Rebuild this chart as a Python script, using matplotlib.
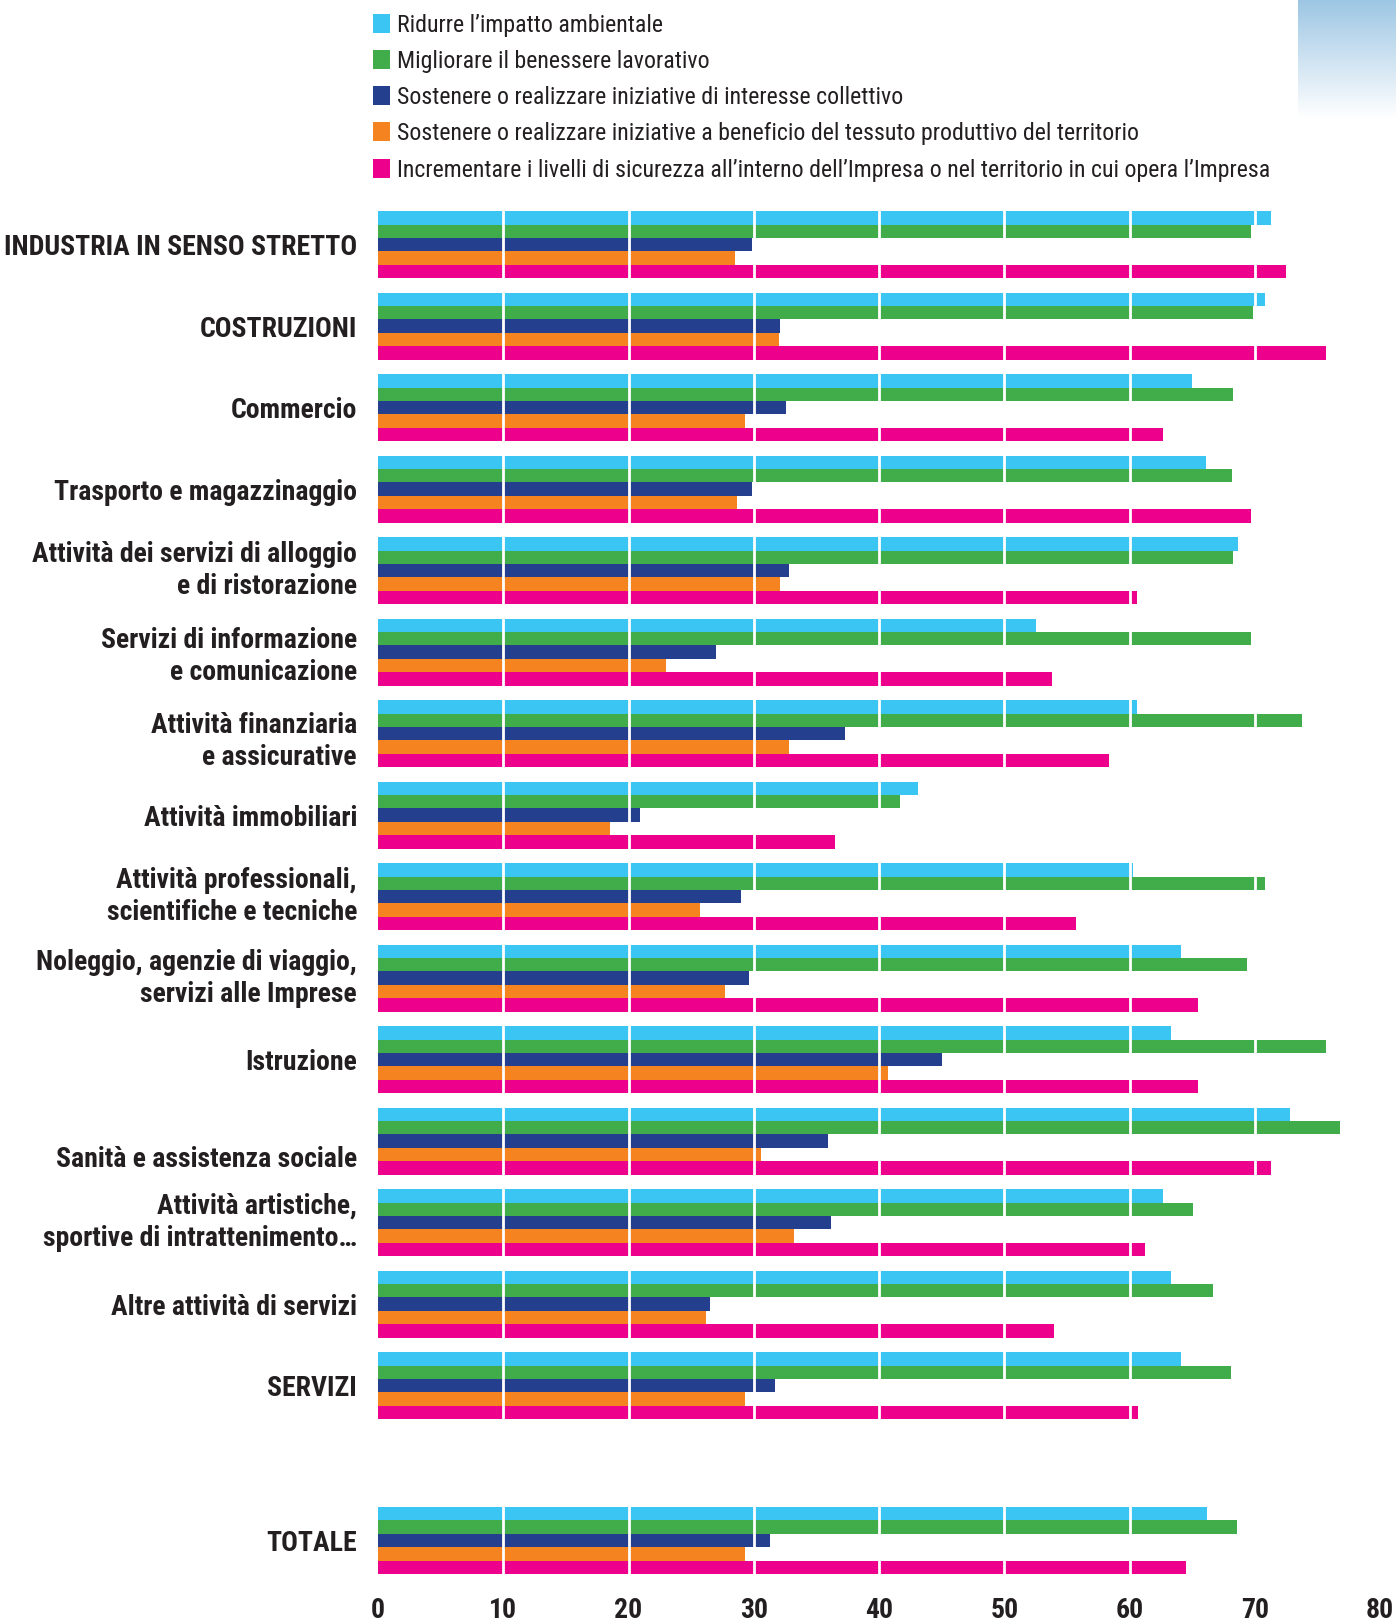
import numpy as np
import matplotlib
matplotlib.use("Agg")
import matplotlib.pyplot as plt
from matplotlib.patches import Rectangle

# --- data -------------------------------------------------------------
categories = [
    "INDUSTRIA IN SENSO STRETTO",
    "COSTRUZIONI",
    "Commercio",
    "Trasporto e magazzinaggio",
    "Attività dei servizi di alloggio\ne di ristorazione",
    "Servizi di informazione\ne comunicazione",
    "Attività finanziaria\ne assicurative",
    "Attività immobiliari",
    "Attività professionali,\nscientifiche e tecniche",
    "Noleggio, agenzie di viaggio,\nservizi alle Imprese",
    "Istruzione",
    "Sanità e assistenza sociale",
    "Attività artistiche,\nsportive di intrattenimento…",
    "Altre attività di servizi",
    "SERVIZI",
    "TOTALE",
]

series_names = [
    "Ridurre l’impatto ambientale",
    "Migliorare il benessere lavorativo",
    "Sostenere o realizzare iniziative di interesse collettivo",
    "Sostenere o realizzare iniziative a beneficio del tessuto produttivo del territorio",
    "Incrementare i livelli di sicurezza all’interno dell’Impresa o nel territorio in cui opera l’Impresa",
]

ambiente = [71.3, 70.8, 65.0, 66.1, 68.7, 52.5, 60.6, 43.1, 60.3, 64.1, 63.3, 72.8, 62.7, 63.3, 64.1, 66.2]
benessere = [69.7, 69.9, 68.3, 68.2, 68.3, 69.7, 73.8, 41.7, 70.8, 69.4, 75.7, 76.8, 65.1, 66.7, 68.1, 68.6]
collettivo = [29.85, 32.1, 32.6, 29.85, 32.85, 27.0, 37.3, 20.9, 29.0, 29.6, 45.0, 35.9, 36.2, 26.5, 31.7, 31.3]
produttivo = [28.5, 32.0, 29.3, 28.7, 32.1, 23.0, 32.85, 18.5, 25.7, 27.7, 40.7, 30.6, 33.2, 26.2, 29.3, 29.3]
sicurezza = [72.5, 75.7, 62.7, 69.7, 60.6, 53.8, 58.4, 36.5, 55.7, 65.5, 65.5, 71.3, 61.2, 54.0, 60.7, 64.5]

xticks = [0, 10, 20, 30, 40, 50, 60, 70, 80]

# --- style ------------------------------------------------------------
colors = ["#3AC5F2", "#41AD4A", "#243F8E", "#F58420", "#EC008C"]
text_color = "#231F20"
narrow = ["Roboto Condensed", "DejaVu Sans"]

W, H = 1396, 1623
fig = plt.figure(figsize=(W / 100, H / 100), dpi=100)

ax_left, ax_right = 378, 1380
ax_top, ax_bottom = 195, 1590
ax = fig.add_axes([ax_left / W, 1 - ax_bottom / H, (ax_right - ax_left) / W, (ax_bottom - ax_top) / H])

# group centres: the overall total sits below a gap
group_step_px = 81.5
first_centre_px = 244.7
pos = np.arange(len(categories), dtype=float)
pos[-1] = 15.9

bar_h = 13.45 / group_step_px
all_series = [ambiente, benessere, collettivo, produttivo, sicurezza]
for k, (vals, col) in enumerate(zip(all_series, colors)):
    ax.barh(pos + (k - 2) * bar_h, vals, height=bar_h, color=col, linewidth=0, zorder=2)

# white separators across the bars
for xv in xticks[1:-1]:
    ax.axvline(xv, color="white", lw=2.0, zorder=3)

ax.set_xlim(0, 80)
y_top = (ax_top - first_centre_px) / group_step_px
y_bot = (ax_bottom - first_centre_px) / group_step_px
ax.set_ylim(y_bot, y_top)

for s in ax.spines.values():
    s.set_visible(False)
ax.set_yticks([])
ax.set_xticks(xticks)
ax.set_xticklabels([str(t) for t in xticks], family=narrow, fontweight="bold",
                   fontsize=20, color=text_color)
ax.tick_params(axis="x", length=0, pad=5)

# category labels, right-aligned left of the bars
label_x_px = 357
label_shift_px = {"Sanità": 15, "Attività finanziaria": 8, "Servizi di informazione": 4}
for i, name in enumerate(categories):
    y_px = first_centre_px + pos[i] * group_step_px
    if "\n" not in name:
        y_px += 3
    for key, dy in label_shift_px.items():
        if name.startswith(key):
            y_px += dy
    fig.text(label_x_px / W, 1 - y_px / H, name, ha="right", va="center",
             family=narrow, fontweight="bold", fontsize=20, color=text_color,
             linespacing=1.25, multialignment="right")

# legend
leg_x_px, leg_text_px = 373, 397
leg_rows_px = [23, 59, 95, 131, 168]
for name, col, y_px in zip(series_names, colors, leg_rows_px):
    fig.add_artist(Rectangle((leg_x_px / W, 1 - (y_px + 9.5) / H), 17 / W, 19 / H,
                             transform=fig.transFigure, color=col, linewidth=0))
    fig.text(leg_text_px / W, 1 - (y_px + 2.5) / H, name, ha="left", va="center",
             family=narrow, fontsize=17.2, color=text_color)

# soft blue corner band
grad_ax = fig.add_axes([1298 / W, 1 - 118 / H, 98 / W, 118 / H])
g = np.linspace(0, 1, 256)[:, None]
top_rgb = np.array([0x9D, 0xC6, 0xE4]) / 255
img = top_rgb[None, None, :] * (1 - g[..., None]) + np.ones(3)[None, None, :] * g[..., None]
img = np.repeat(img, 4, axis=1)
grad_ax.imshow(img, aspect="auto", interpolation="bilinear")
grad_ax.axis("off")

fig.savefig("out.png", dpi=100, facecolor="white")
